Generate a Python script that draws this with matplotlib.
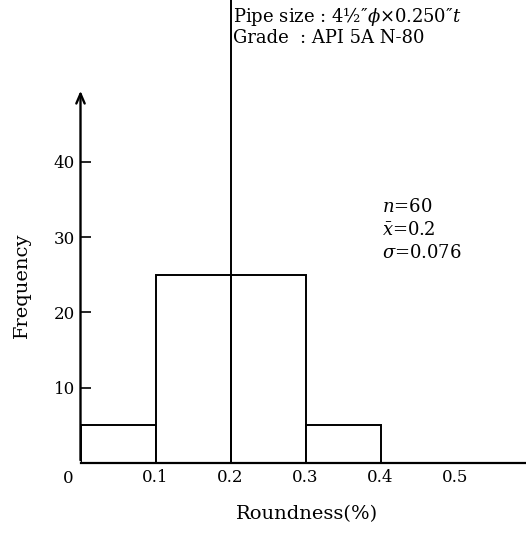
import matplotlib
matplotlib.use("Agg")
import matplotlib.pyplot as plt

bin_edges = [0.0, 0.1, 0.2, 0.3, 0.4]
frequencies = [5, 25, 25, 5]
mean_value = 0.2
x_ticks = [0.1, 0.2, 0.3, 0.4, 0.5]
x_tick_labels = ["0.1", "0.2", "0.3", "0.4", "0.5"]
y_ticks = [10, 20, 30, 40]
y_tick_labels = ["10", "20", "30", "40"]

plt.rcParams['font.family'] = ['DejaVu Serif']
plt.rcParams['mathtext.fontset'] = 'dejavuserif'

fig = plt.figure(figsize=(5.26, 5.34), dpi=100)
ax = fig.add_axes([80.5/526, 71/534, (526-80.5)/526, 463/534])
ax.set_xlim(0, (526-80.5)/750)
ax.set_ylim(0, 463/7.53)

lefts = bin_edges[:-1]
widths = [bin_edges[i+1]-bin_edges[i] for i in range(len(lefts))]
ax.bar(lefts, frequencies, width=widths, align='edge', facecolor='white',
       edgecolor='black', linewidth=1.4, zorder=2)
ax.axvline(mean_value, color='black', linewidth=1.4, zorder=3, clip_on=False)

for s in ['top', 'right', 'left']:
    ax.spines[s].set_visible(False)
ax.spines['bottom'].set_linewidth(1.6)

ax.annotate('', xy=(0, 49.8), xytext=(0, 0),
            arrowprops=dict(arrowstyle='->,head_length=0.7,head_width=0.3', color='black', lw=1.7),
            annotation_clip=False)

ax.set_xticks(x_ticks)
ax.set_xticklabels(x_tick_labels)
ax.tick_params(axis='x', length=0, pad=4, labelsize=12)
ax.set_yticks(y_ticks)
ax.set_yticklabels(y_tick_labels)
ax.tick_params(axis='y', direction='in', length=7, width=1.2, pad=4, labelsize=12)
ax.text(-0.016, -2.1, "0", ha='center', va='center', fontsize=12)

ax.set_xlabel("Roundness(%)", fontsize=14)
ax.xaxis.set_label_coords(0.508, -0.09)
ax.set_ylabel("Frequency", fontsize=14)
ax.yaxis.set_label_coords(-0.111, 0.384)

ax.text(0.402, 34.0, r"$n$=60", fontsize=13, va='center')
ax.text(0.402, 30.9, r"$\bar{x}$=0.2", fontsize=13, va='center')
ax.text(0.402, 27.9, r"$\sigma$=0.076", fontsize=13, va='center')

fig.text(233/526, 1-17/534, "Pipe size : 4½\u2033$\\phi$×0.250\u2033$t$", fontsize=13, va='center')
fig.text(233/526, 1-38/534, "Grade", fontsize=13, va='center')
fig.text(300/526, 1-38/534, ": API 5A N-80", fontsize=13, va='center')

fig.savefig("out.png", dpi=100)
